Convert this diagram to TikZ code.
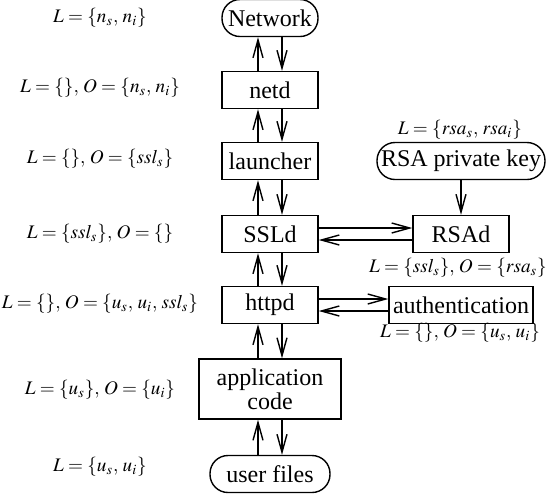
\documentclass[tikz,border=0pt]{standalone}
\usepackage{mathptmx}
\usepackage{fontspec}
\setmainfont{Liberation Serif}
\newfontfamily\boxfont{Liberation Serif}
\usetikzlibrary{arrows.meta}

\begin{document}
\begin{tikzpicture}[x=0.5pt, y=-0.5pt, line width=0.7pt,
  box/.style={rectangle, draw, inner xsep=2pt, minimum height=18.5pt, minimum width=48pt, font=\boxfont\fontsize{12}{14}\selectfont},
  store/.style={box, rounded corners=9pt},
  flow/.style={-{Straight Barb[length=9pt, width=5pt]}},
  lbl/.style={font=\fontsize{9.6}{12}\selectfont}]
  \useasboundingbox (0, 0) rectangle (547, 494);

  \node (network) [store] at (270, 18) {Network};
  \node (netd) [box] at (270, 90) {netd};
  \node (launcher) [box] at (270, 161) {launcher};
  \node (ssld) [box] at (270, 234) {SSLd};
  \node (httpd) [box] at (270, 305) {httpd};
  \node (app) [box, minimum width=71pt, minimum height=30pt, align=center] at (270, 389) {application\\[-2pt]code};
  \node (files) [store, minimum width=60pt] at (270, 474) {user files};

  \node (rsakey) [store] at (461, 161) {RSA private key};
  \node (rsad) [box] at (461, 234) {RSAd};
  \node (auth) [box, minimum width=71.5pt] at (461, 305) {authentication};

  \node (l-network) [lbl] at (100, 18) {$L=\{n_s,\, n_i\}$};
  \node (l-netd) [lbl] at (100, 88) {$L=\{\},\, O=\{n_s,\, n_i\}$};
  \node (l-launcher) [lbl] at (100, 159) {$L=\{\},\, O=\{ssl_s\}$};
  \node (l-ssld) [lbl] at (100, 234) {$L=\{ssl_s\},\, O=\{\}$};
  \node (l-httpd) [lbl] at (100, 304) {$L=\{\},\, O=\{u_s,\, u_i,\, ssl_s\}$};
  \node (l-app) [lbl] at (100, 390) {$L=\{u_s\},\, O=\{u_i\}$};
  \node (l-files) [lbl] at (100, 467) {$L=\{u_s,\, u_i\}$};
  \node (l-rsakey) [lbl] at (460, 130) {$L=\{rsa_s,\, rsa_i\}$};
  \node (l-rsad) [lbl] at (458, 268) {$L=\{ssl_s\},\, O=\{rsa_s\}$};
  \node (l-auth) [lbl] at (460, 333) {$L=\{\},\, O=\{u_s,\, u_i\}$};

  \foreach \lo/\hi in {netd/network, launcher/netd, ssld/launcher, httpd/ssld, app/httpd, files/app} {
    \draw[flow] ([xshift=-6pt]\lo.north) to ([xshift=-6pt]\hi.south);
    \draw[flow] ([xshift=6pt]\hi.south) to ([xshift=6pt]\lo.north);
  }

  \draw[flow] (rsakey) to (rsad);
  \draw[flow] ([yshift=3pt]ssld.east) to ([yshift=3pt]rsad.west);
  \draw[flow] ([yshift=-3pt]rsad.west) to ([yshift=-3pt]ssld.east);
  \draw[flow] ([yshift=3pt]httpd.east) to ([yshift=3pt]auth.west);
  \draw[flow] ([yshift=-3pt]auth.west) to ([yshift=-3pt]httpd.east);
\end{tikzpicture}
\end{document}
